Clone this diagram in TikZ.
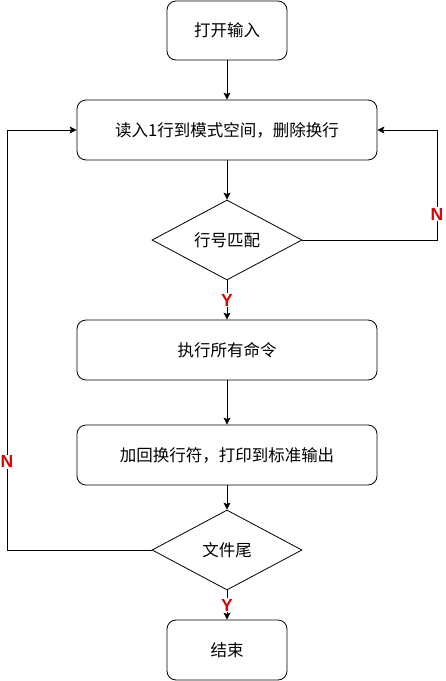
\documentclass[tikz,border=0pt]{standalone}
\usepackage{fontspec}
\setmainfont{Liberation Sans}
\newfontfamily\cjk{Noto Sans CJK SC}
\usetikzlibrary{shapes.geometric,arrows.meta}
\definecolor{lblred}{HTML}{E00000}
\tikzset{
  box/.style={draw, line width=0.8pt, rounded corners=9pt, inner sep=0pt, font=\cjk\fontsize{16.5}{20}\selectfont},
  dia/.style={draw, line width=0.8pt, diamond, inner sep=0pt, minimum width=150pt, minimum height=80pt, aspect=1.875, font=\cjk\fontsize{16.5}{20}\selectfont},
  arr/.style={draw, line width=0.8pt, -{Stealth[length=7pt,width=7pt,inset=1.5pt]}},
  lbl/.style={fill=white, text=lblred, inner sep=1pt, font=\bfseries\fontsize{17.5}{20}\selectfont}
}
\begin{document}
\begin{tikzpicture}[x=1pt,y=-1pt]
\useasboundingbox (0,0) rectangle (446,681);
\node[box, minimum width=120pt, minimum height=59pt] (start) at (227,30.5) {打开输入};
\node[box, minimum width=300pt, minimum height=60pt] (read) at (227,130) {读入1行到模式空间，删除换行};
\node[dia] (match) at (227,240) {行号匹配};
\node[box, minimum width=300pt, minimum height=60pt] (exec) at (227,350) {执行所有命令};
\node[box, minimum width=300pt, minimum height=60pt] (print) at (227,455) {加回换行符，打印到标准输出};
\node[dia] (eof) at (227,550) {文件尾};
\node[box, minimum width=120pt, minimum height=60pt] (end) at (227,650) {结束};
\coordinate (rc) at (437,240);
\coordinate (lc) at (7,550);
\draw[arr] (start) -- (read);
\draw[arr] (read) -- (match);
\draw[arr] (match) -- node[lbl]{Y} (exec);
\draw[arr] (exec) -- (print);
\draw[arr] (print) -- (eof);
\draw[arr] (eof) -- node[lbl]{Y} (end);
\draw[arr] (match.east) -- (rc) |- node[lbl, pos=0.118]{N} (read.east);
\draw[arr] (eof.west) -- (lc) |- node[lbl, pos=0.105]{N} (read.west);
\end{tikzpicture}
\end{document}
